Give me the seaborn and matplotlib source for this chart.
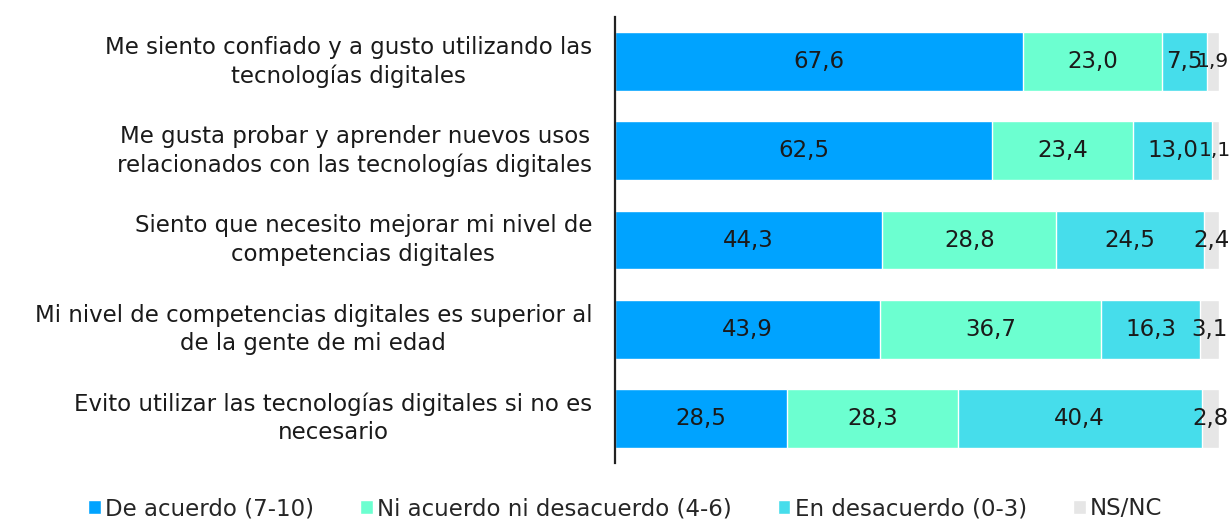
import numpy as np
import pandas as pd
import matplotlib.pyplot as plt
import seaborn as sns

# Data
categories = [
    "Me siento confiado y a gusto utilizando las\ntecnologías digitales",
    "Me gusta probar y aprender nuevos usos\nrelacionados con las tecnologías digitales",
    "Siento que necesito mejorar mi nivel de\ncompetencias digitales",
    "Mi nivel de competencias digitales es superior al\nde la gente de mi edad",
    "Evito utilizar las tecnologías digitales si no es\nnecesario",
]
series_names = ["De acuerdo (7-10)", "Ni acuerdo ni desacuerdo (4-6)",
                "En desacuerdo (0-3)", "NS/NC"]
de_acuerdo = [67.6, 62.5, 44.3, 43.9, 28.5]
ni_acuerdo = [23.0, 23.4, 28.8, 36.7, 28.3]
desacuerdo = [7.5, 13.0, 24.5, 16.3, 40.4]
ns_nc = [1.9, 1.1, 2.4, 3.1, 2.8]
colors = ["#00A3FF", "#6CFFD0", "#46DDEB", "#E6E6E6"]

FS = 16.5

sns.set_theme(style="white")
plt.rcParams['font.family'] = ['DejaVu Sans']

df = pd.DataFrame({"cat": categories,
                   series_names[0]: de_acuerdo,
                   series_names[1]: ni_acuerdo,
                   series_names[2]: desacuerdo,
                   series_names[3]: ns_nc})
values = df[series_names].to_numpy()
cum = values.cumsum(axis=1)

fig = plt.figure(figsize=(12.31, 5.25), dpi=100)
ax = fig.add_axes([0.4996, 0.1181, 0.4903, 0.8495])

# stacked bars: draw cumulative totals from the widest down
for i in range(len(series_names) - 1, -1, -1):
    sns.barplot(x=cum[:, i], y=df["cat"], color=colors[i], orient="h",
                width=0.66, saturation=1, ax=ax, label=series_names[i])

# value labels centred in each segment
for r in range(len(categories)):
    for i in range(len(series_names)):
        start = cum[r, i] - values[r, i]
        mid = start + values[r, i] / 2
        fs = FS if values[r, i] >= 2 else FS - 2
        ax.text(mid, r, f"{values[r, i]:.1f}".replace(".", ","),
                ha="center", va="center", fontsize=fs, color="#1a1a1a")

ax.set_xlim(0, 100)
ax.set_ylim(4.5, -0.5)
ax.set_xlabel("")
ax.set_ylabel("")
ax.set_xticks([])
for s in ["top", "right", "bottom"]:
    ax.spines[s].set_visible(False)
ax.spines["left"].set_color("#222222")
ax.spines["left"].set_linewidth(1.6)
ax.tick_params(axis="y", length=0, pad=16.5, labelsize=FS, labelcolor="#1a1a1a")
for lbl in ax.get_yticklabels():
    lbl.set_multialignment("center")
    lbl.set_va("center")
    lbl.set_linespacing(1.3)

handles, labels = ax.get_legend_handles_labels()
order = [labels.index(n) for n in series_names]
ax.legend([handles[k] for k in order], [labels[k] for k in order],
          loc="lower center", bbox_to_anchor=(0.508, -0.03),
          bbox_transform=fig.transFigure, ncol=4, frameon=False,
          fontsize=FS, handlelength=0.55, handleheight=0.55,
          handletextpad=0.2, columnspacing=2.0)

fig.savefig("out.png", dpi=100)
